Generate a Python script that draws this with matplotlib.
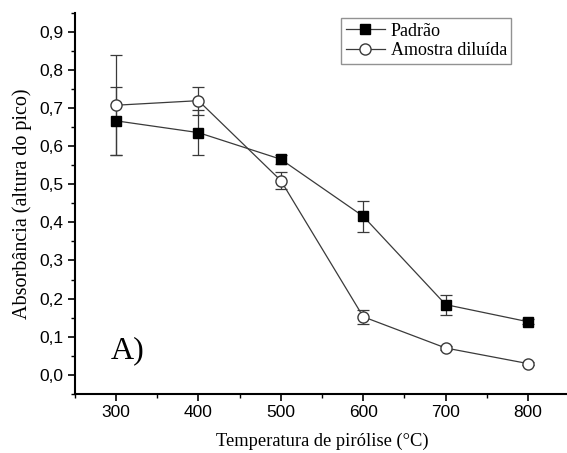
import matplotlib
matplotlib.use("Agg")
import matplotlib.pyplot as plt
from matplotlib.lines import Line2D
from matplotlib.ticker import MultipleLocator, FuncFormatter

temperatures = [300, 400, 500, 600, 700, 800]
padrao = [0.667, 0.636, 0.566, 0.416, 0.184, 0.139]
padrao_err = [0.090, 0.060, 0.012, 0.040, 0.026, 0.006]
amostra = [0.708, 0.720, 0.510, 0.152, 0.070, 0.029]
amostra_err = [0.132, 0.037, 0.022, 0.019, 0.006, 0.005]

serif = "Liberation Serif"
sans = "Liberation Sans"

fig = plt.figure(figsize=(5.67, 4.53), dpi=100)
ax = fig.add_axes([0.132, 0.131, 0.872, 0.84])

line_color = "#3a3a3a"
sq_style = dict(color=line_color, lw=0.9, marker="s", markersize=7,
                markerfacecolor="black", markeredgecolor="black")
ci_style = dict(color=line_color, lw=0.9, marker="o", markersize=8,
                markerfacecolor="white", markeredgecolor=line_color)
ax.errorbar(temperatures, padrao, yerr=padrao_err, ecolor=line_color, elinewidth=0.9,
            capsize=4, capthick=0.9, **sq_style)
ax.errorbar(temperatures, amostra, yerr=amostra_err, ecolor=line_color, elinewidth=0.9,
            capsize=4, capthick=0.9, **ci_style)

ax.set_xlim(250, 850)
ax.set_ylim(-0.05, 0.95)
ax.xaxis.set_major_locator(MultipleLocator(100))
ax.xaxis.set_minor_locator(MultipleLocator(50))
ax.yaxis.set_major_locator(MultipleLocator(0.1))
ax.yaxis.set_minor_locator(MultipleLocator(0.05))
ax.yaxis.set_major_formatter(FuncFormatter(lambda v, p: f"{v:.1f}".replace(".", ",").replace("-0,0", "0,0")))

for side in ["top", "right"]:
    ax.spines[side].set_visible(False)
for side in ["left", "bottom"]:
    ax.spines[side].set_linewidth(1.5)
ax.tick_params(which="major", direction="out", length=5, width=1.2, labelsize=12.5)
ax.tick_params(which="minor", direction="out", length=3, width=1.0)
for lbl in ax.get_xticklabels() + ax.get_yticklabels():
    lbl.set_fontfamily(sans)

ax.set_xlabel("Temperatura de pirólise (°C)", fontfamily=serif, fontsize=13.3, labelpad=9)
ax.set_ylabel("Absorbância (altura do pico)", fontfamily=serif, fontsize=14.5, labelpad=5)

ax.text(293, 0.063, "A)", fontfamily=serif, fontsize=23, va="center", ha="left")

handles = [Line2D([], [], **sq_style), Line2D([], [], **ci_style)]
leg = ax.legend(handles, ["Padrão", "Amostra diluída"], loc="upper right",
                bbox_to_anchor=(0.883, 0.987), prop={"family": serif, "size": 13},
                frameon=True, fancybox=False, edgecolor="#777777", handlelength=2.2,
                handletextpad=0.3, borderpad=0.25, labelspacing=0.15, borderaxespad=0)
leg.get_frame().set_linewidth(1.0)

fig.savefig("out.png", dpi=100)
